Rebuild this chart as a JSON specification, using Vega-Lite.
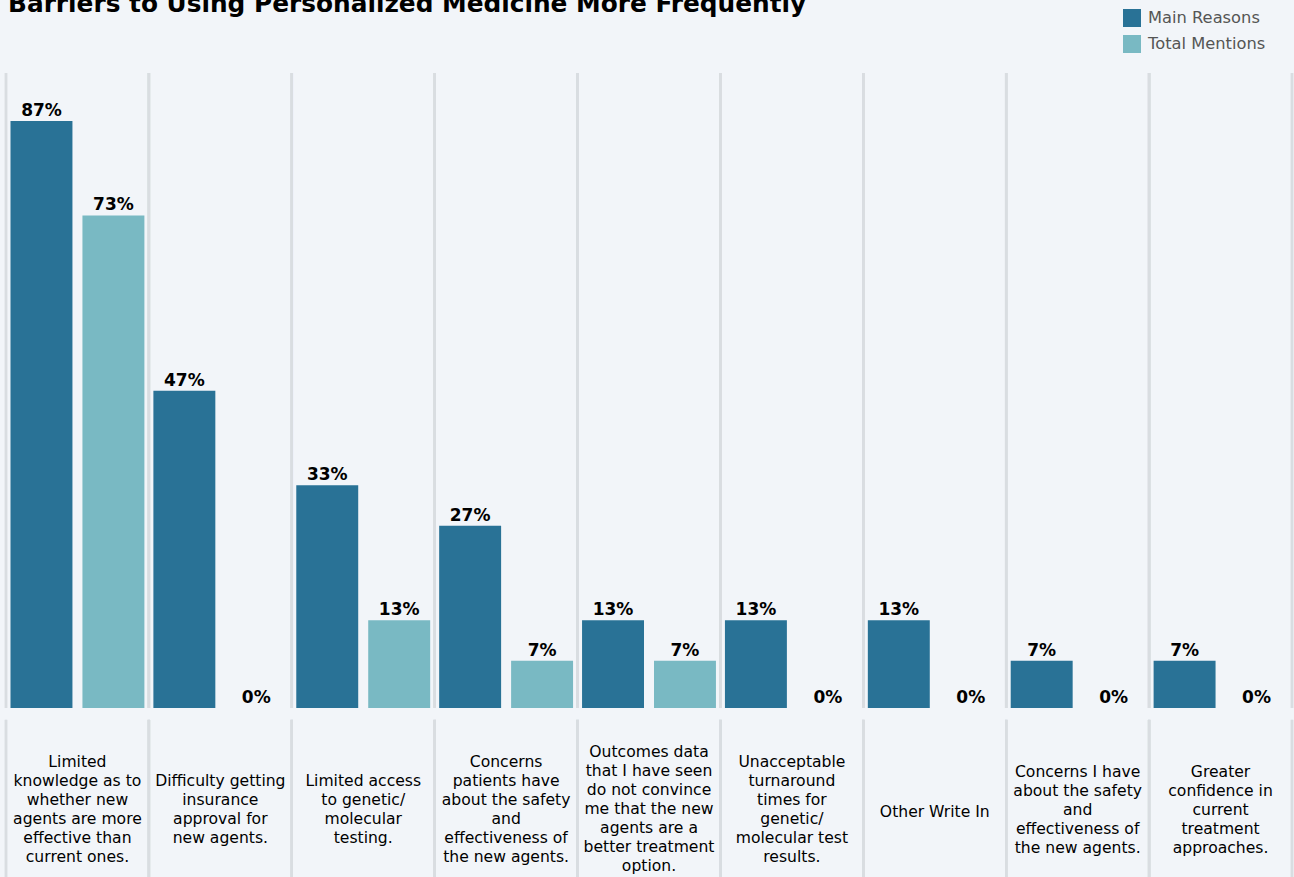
{
  "$schema": "https://vega.github.io/schema/vega-lite/v6.json",
  "autosize": "none",
  "width": 1286,
  "height": 635,
  "padding": {"left": 6, "top": 73, "right": 2, "bottom": 169},
  "background": "#f2f5f9",
  "config": {
    "view": {"stroke": null},
    "font": "DejaVu Sans"
  },
  "datasets": {
    "bars": [
      {"category": "Limited|knowledge as to|whether new|agents are more|effective than|current ones.", "series": "Main Reasons", "value": 0.87},
      {"category": "Limited|knowledge as to|whether new|agents are more|effective than|current ones.", "series": "Total Mentions", "value": 0.73},
      {"category": "Difficulty getting|insurance|approval for|new agents.", "series": "Main Reasons", "value": 0.47},
      {"category": "Difficulty getting|insurance|approval for|new agents.", "series": "Total Mentions", "value": 0},
      {"category": "Limited access|to genetic/|molecular|testing.", "series": "Main Reasons", "value": 0.33},
      {"category": "Limited access|to genetic/|molecular|testing.", "series": "Total Mentions", "value": 0.13},
      {"category": "Concerns|patients have|about the safety|and|effectiveness of|the new agents.", "series": "Main Reasons", "value": 0.27},
      {"category": "Concerns|patients have|about the safety|and|effectiveness of|the new agents.", "series": "Total Mentions", "value": 0.07},
      {"category": "Outcomes data|that I have seen|do not convince|me that the new|agents are a|better treatment|option.", "series": "Main Reasons", "value": 0.13},
      {"category": "Outcomes data|that I have seen|do not convince|me that the new|agents are a|better treatment|option.", "series": "Total Mentions", "value": 0.07},
      {"category": "Unacceptable|turnaround|times for|genetic/|molecular test|results.", "series": "Main Reasons", "value": 0.13},
      {"category": "Unacceptable|turnaround|times for|genetic/|molecular test|results.", "series": "Total Mentions", "value": 0},
      {"category": "Other Write In", "series": "Main Reasons", "value": 0.13},
      {"category": "Other Write In", "series": "Total Mentions", "value": 0},
      {"category": "Concerns I have|about the safety|and|effectiveness of|the new agents.", "series": "Main Reasons", "value": 0.07},
      {"category": "Concerns I have|about the safety|and|effectiveness of|the new agents.", "series": "Total Mentions", "value": 0},
      {"category": "Greater|confidence in|current|treatment|approaches.", "series": "Main Reasons", "value": 0.07},
      {"category": "Greater|confidence in|current|treatment|approaches.", "series": "Total Mentions", "value": 0}
    ],
    "titles": [
      {"title": "Barriers to Using Personalized Medicine More Frequently"}
    ]
  },
  "data": {"name": "bars"},
  "layer": [
    {
      "mark": {"type": "rule", "color": "#d9dde1", "strokeWidth": 2.5},
      "encoding": {
        "x": {"field": "category", "type": "nominal", "sort": null, "bandPosition": 0, "axis": null},
        "y": {"datum": 0, "type": "quantitative", "axis": null},
        "y2": {"datum": 0.941}
      }
    },
    {
      "mark": {"type": "rule", "color": "#d9dde1", "strokeWidth": 2.5},
      "encoding": {
        "x": {"field": "category", "type": "nominal", "sort": null, "bandPosition": 1, "axis": null},
        "y": {"datum": 0, "type": "quantitative", "axis": null},
        "y2": {"datum": 0.941}
      }
    },
    {
      "mark": {"type": "rule", "color": "#d9dde1", "strokeWidth": 2.5},
      "encoding": {
        "x": {"field": "category", "type": "nominal", "sort": null, "bandPosition": 0, "axis": null},
        "y": {"datum": -0.0175, "type": "quantitative", "axis": null},
        "y2": {"datum": -0.3}
      }
    },
    {
      "mark": {"type": "rule", "color": "#d9dde1", "strokeWidth": 2.5},
      "encoding": {
        "x": {"field": "category", "type": "nominal", "sort": null, "bandPosition": 1, "axis": null},
        "y": {"datum": -0.0175, "type": "quantitative", "axis": null},
        "y2": {"datum": -0.3}
      }
    },
    {
      "mark": {"type": "bar"},
      "encoding": {
        "x": {
          "field": "category",
          "type": "nominal",
          "sort": null,
          "scale": {"paddingInner": 0, "paddingOuter": 0},
          "axis": null
        },
        "xOffset": {
          "field": "series",
          "type": "nominal",
          "scale": {"paddingInner": 0.139, "paddingOuter": 0.0625}
        },
        "y": {
          "field": "value",
          "type": "quantitative",
          "scale": {"domain": [0, 0.941], "nice": false, "zero": true},
          "axis": null
        },
        "color": {
          "field": "series",
          "type": "nominal",
          "scale": {"domain": ["Main Reasons", "Total Mentions"], "range": ["#297296", "#79b9c3"]},
          "legend": {
            "title": null,
            "orient": "none",
            "legendX": 1117,
            "legendY": -64,
            "padding": 0,
            "symbolType": "square",
            "symbolSize": 324,
            "symbolStrokeWidth": 0,
            "labelFont": "DejaVu Sans",
            "labelFontSize": 16.3,
            "labelColor": "#555555",
            "labelOffset": 7,
            "rowPadding": 8
          }
        }
      }
    },
    {
      "mark": {"type": "text", "font": "DejaVu Sans", "fontSize": 17, "fontWeight": "bold", "color": "#000000", "baseline": "alphabetic", "dy": -5},
      "encoding": {
        "x": {"field": "category", "type": "nominal", "sort": null, "axis": null},
        "xOffset": {"field": "series", "type": "nominal"},
        "y": {"field": "value", "type": "quantitative", "axis": null},
        "text": {"field": "value", "type": "quantitative", "format": ".0%"}
      }
    },
    {
      "transform": [
        {"filter": {"field": "series", "equal": "Main Reasons"}},
        {"filter": {"field": "category", "oneOf": ["Other Write In"]}}
      ],
      "mark": {"type": "text", "font": "DejaVu Sans", "fontSize": 15.6, "color": "#000000", "align": "center", "baseline": "middle", "lineBreak": "|", "lineHeight": 19},
      "encoding": {
        "x": {"field": "category", "type": "nominal", "sort": null, "axis": null},
        "y": {"datum": -0.1541, "type": "quantitative", "axis": null},
        "text": {"field": "category"}
      }
    },
    {
      "transform": [
        {"filter": {"field": "series", "equal": "Main Reasons"}},
        {"filter": {"field": "category", "oneOf": ["Difficulty getting|insurance|approval for|new agents.", "Limited access|to genetic/|molecular|testing."]}}
      ],
      "mark": {"type": "text", "font": "DejaVu Sans", "fontSize": 15.6, "color": "#000000", "align": "center", "baseline": "middle", "lineBreak": "|", "lineHeight": 19},
      "encoding": {
        "x": {"field": "category", "type": "nominal", "sort": null, "axis": null},
        "y": {"datum": -0.1082, "type": "quantitative", "axis": null},
        "text": {"field": "category"}
      }
    },
    {
      "transform": [
        {"filter": {"field": "series", "equal": "Main Reasons"}},
        {"filter": {"field": "category", "oneOf": ["Concerns I have|about the safety|and|effectiveness of|the new agents.", "Greater|confidence in|current|treatment|approaches."]}}
      ],
      "mark": {"type": "text", "font": "DejaVu Sans", "fontSize": 15.6, "color": "#000000", "align": "center", "baseline": "middle", "lineBreak": "|", "lineHeight": 19},
      "encoding": {
        "x": {"field": "category", "type": "nominal", "sort": null, "axis": null},
        "y": {"datum": -0.0948, "type": "quantitative", "axis": null},
        "text": {"field": "category"}
      }
    },
    {
      "transform": [
        {"filter": {"field": "series", "equal": "Main Reasons"}},
        {"filter": {"field": "category", "oneOf": ["Limited|knowledge as to|whether new|agents are more|effective than|current ones.", "Concerns|patients have|about the safety|and|effectiveness of|the new agents.", "Unacceptable|turnaround|times for|genetic/|molecular test|results."]}}
      ],
      "mark": {"type": "text", "font": "DejaVu Sans", "fontSize": 15.6, "color": "#000000", "align": "center", "baseline": "middle", "lineBreak": "|", "lineHeight": 19},
      "encoding": {
        "x": {"field": "category", "type": "nominal", "sort": null, "axis": null},
        "y": {"datum": -0.0800, "type": "quantitative", "axis": null},
        "text": {"field": "category"}
      }
    },
    {
      "transform": [
        {"filter": {"field": "series", "equal": "Main Reasons"}},
        {"filter": {"field": "category", "oneOf": ["Outcomes data|that I have seen|do not convince|me that the new|agents are a|better treatment|option."]}}
      ],
      "mark": {"type": "text", "font": "DejaVu Sans", "fontSize": 15.6, "color": "#000000", "align": "center", "baseline": "middle", "lineBreak": "|", "lineHeight": 19},
      "encoding": {
        "x": {"field": "category", "type": "nominal", "sort": null, "axis": null},
        "y": {"datum": -0.0652, "type": "quantitative", "axis": null},
        "text": {"field": "category"}
      }
    },
    {
      "data": {"name": "titles"},
      "mark": {"type": "text", "font": "DejaVu Sans", "fontSize": 24.8, "fontWeight": "bold", "color": "#000000", "align": "left", "baseline": "alphabetic", "dx": 2},
      "encoding": {
        "x": {"datum": "Limited|knowledge as to|whether new|agents are more|effective than|current ones.", "type": "nominal", "bandPosition": 0, "axis": null},
        "y": {"datum": 1.0314, "type": "quantitative", "axis": null},
        "text": {"field": "title"}
      }
    }
  ]
}
